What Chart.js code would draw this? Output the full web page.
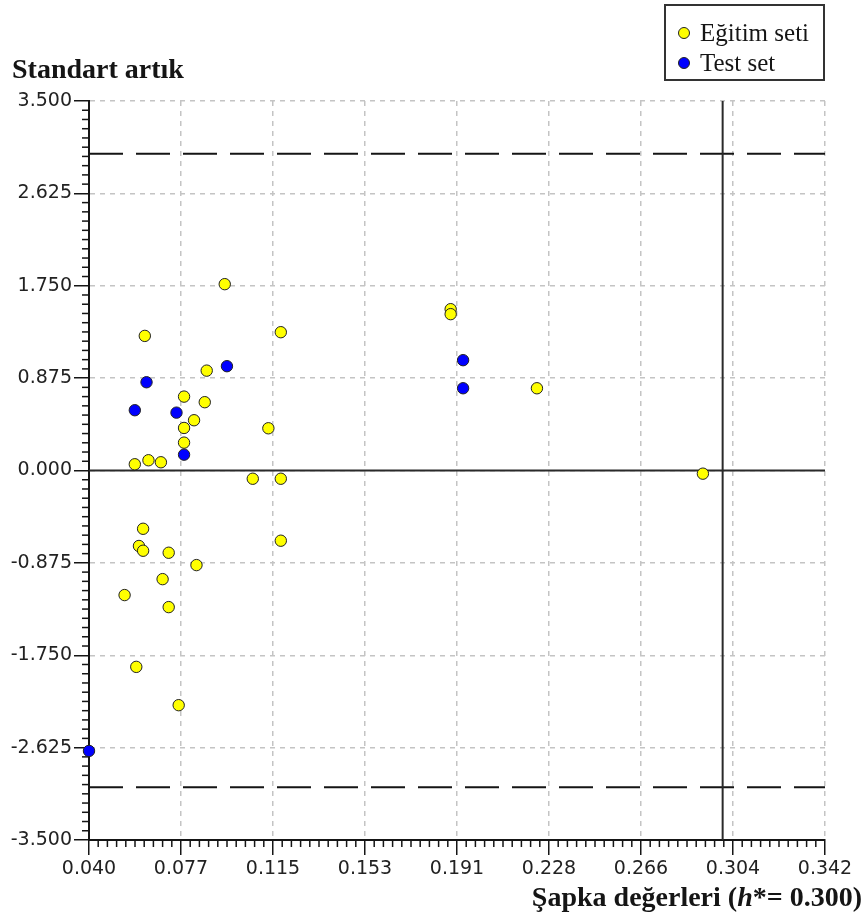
<!DOCTYPE html>
<html><head><meta charset="utf-8">
<script src="https://cdn.jsdelivr.net/npm/chart.js@4/dist/chart.umd.min.js"></script>
<style>html,body{margin:0;padding:0;background:#fff;overflow:hidden}canvas{display:block}</style>
</head><body>
<canvas id="c" width="867" height="922"></canvas>
<script>
// ---- data ----
const seriesNames = ['Eğitim seti', 'Test set'];
const trainX = [0.0629, 0.1187, 0.0883, 0.0790, 0.0875, 0.0831, 0.0790, 0.0790, 0.1136, 0.0588,
                0.0644, 0.0695, 0.1072, 0.1187, 0.0622, 0.0605, 0.0622, 0.0727, 0.0841, 0.0702,
                0.0546, 0.0727, 0.0594, 0.0768, 0.1187, 0.0957, 0.1884, 0.1884, 0.2238, 0.2919];
const trainY = [1.275, 1.310, 0.946, 0.700, 0.647, 0.476, 0.403, 0.264, 0.400, 0.059,
                0.097, 0.078, -0.078, -0.078, -0.552, -0.715, -0.760, -0.779, -0.896, -1.029,
                -1.180, -1.294, -1.860, -2.223, -0.665, 1.765, 1.528, 1.481, 0.779, -0.030];
const testX = [0.0636, 0.0966, 0.0588, 0.0759, 0.0790, 0.0400, 0.1935, 0.1935];
const testY = [0.836, 0.988, 0.571, 0.548, 0.150, -2.656, 1.045, 0.779];
const xTickValues = [0.040, 0.07775, 0.1155, 0.15325, 0.191, 0.22875, 0.2665, 0.30425, 0.342];
const xTickLabels = ['0.040','0.077','0.115','0.153','0.191','0.228','0.266','0.304','0.342'];
const yTickValues = [-3.5, -2.625, -1.75, -0.875, 0, 0.875, 1.75, 2.625, 3.5];
const yTickLabels = ['-3.500','-2.625','-1.750','-0.875','0.000','0.875','1.750','2.625','3.500'];
const warningLines = [-3, 3];
const zeroLine = 0;
const hStar = 0.300;
const yTitle = 'Standart artık';
const xTitleParts = ['Şapka değerleri (', 'h', '*= 0.300)'];
const minorDivisions = 10;

const toPoints = (xs, ys) => xs.map((x, i) => ({x: x, y: ys[i]}));
const tickFont = {family: 'DejaVu Sans', size: 19};
const ink = '#151515';

const refLines = {
  id: 'refLines',
  beforeDatasetsDraw(chart) {
    const {ctx, chartArea: a, scales: {x, y}} = chart;
    ctx.save();
    ctx.strokeStyle = ink;
    ctx.lineWidth = 2;
    ctx.setLineDash([34, 13]);
    warningLines.forEach(v => {
      const py = y.getPixelForValue(v);
      ctx.beginPath(); ctx.moveTo(a.left, py); ctx.lineTo(a.right, py); ctx.stroke();
    });
    ctx.setLineDash([]);
    ctx.strokeStyle = '#2a2a2a';
    const py0 = y.getPixelForValue(zeroLine);
    ctx.beginPath(); ctx.moveTo(a.left, py0); ctx.lineTo(a.right, py0); ctx.stroke();
    const px = x.getPixelForValue(hStar);
    ctx.beginPath(); ctx.moveTo(px, a.top); ctx.lineTo(px, a.bottom); ctx.stroke();
    // minor ticks
    ctx.strokeStyle = ink;
    ctx.lineWidth = 1.5;
    for (let i = 0; i < xTickValues.length - 1; i++) {
      for (let k = 1; k < minorDivisions; k++) {
        const v = xTickValues[i] + (xTickValues[i + 1] - xTickValues[i]) * k / minorDivisions;
        const p = x.getPixelForValue(v);
        ctx.beginPath(); ctx.moveTo(p, a.bottom); ctx.lineTo(p, a.bottom + 7); ctx.stroke();
      }
    }
    for (let i = 0; i < yTickValues.length - 1; i++) {
      for (let k = 1; k < minorDivisions; k++) {
        const v = yTickValues[i] + (yTickValues[i + 1] - yTickValues[i]) * k / minorDivisions;
        const p = y.getPixelForValue(v);
        ctx.beginPath(); ctx.moveTo(a.left - 7, p); ctx.lineTo(a.left, p); ctx.stroke();
      }
    }
    ctx.restore();
  }
};

const titlesAndLegend = {
  id: 'titlesAndLegend',
  afterDraw(chart) {
    const ctx = chart.ctx;
    ctx.save();
    ctx.fillStyle = ink;
    ctx.textBaseline = 'alphabetic';
    ctx.textAlign = 'left';
    ctx.font = 'bold 28px "Liberation Serif"';
    ctx.fillText(yTitle, 12, 78);
    // x title, right aligned
    const fonts = ['bold 28px "Liberation Serif"', 'italic bold 28px "Liberation Serif"', 'bold 28px "Liberation Serif"'];
    const widths = xTitleParts.map((t, i) => { ctx.font = fonts[i]; return ctx.measureText(t).width; });
    let xx = 862 - widths.reduce((s, w) => s + w, 0);
    xTitleParts.forEach((t, i) => { ctx.font = fonts[i]; ctx.fillText(t, xx, 906); xx += widths[i]; });
    // legend
    ctx.lineWidth = 2;
    ctx.strokeStyle = '#333';
    ctx.strokeRect(665, 5, 159, 75);
    ctx.font = '25px "Liberation Serif"';
    chart.data.datasets.forEach((ds, i) => {
      const cy = 33 + i * 30;
      ctx.beginPath();
      ctx.arc(684, cy, 5.5, 0, Math.PI * 2);
      ctx.fillStyle = ds.backgroundColor;
      ctx.fill();
      ctx.lineWidth = 1;
      ctx.strokeStyle = '#222';
      ctx.stroke();
      ctx.fillStyle = ink;
      ctx.fillText(ds.label, 700, cy + 8);
    });
    ctx.restore();
  }
};

new Chart(document.getElementById('c'), {
  type: 'scatter',
  data: {
    datasets: [
      {label: seriesNames[0], data: toPoints(trainX, trainY), backgroundColor: '#ffff00',
       borderColor: '#222', borderWidth: 1, pointRadius: 5.7, pointHoverRadius: 5.7, clip: false},
      {label: seriesNames[1], data: toPoints(testX, testY), backgroundColor: '#0000ff',
       borderColor: '#222', borderWidth: 1, pointRadius: 5.7, pointHoverRadius: 5.7, clip: false}
    ]
  },
  options: {
    responsive: false,
    animation: false,
    devicePixelRatio: 1,
    layout: {padding: {top: 101, right: 42, left: 0, bottom: 0}},
    plugins: {legend: {display: false}, tooltip: {enabled: false}, title: {display: false}},
    scales: {
      x: {
        type: 'linear', min: xTickValues[0], max: xTickValues[xTickValues.length - 1],
        afterBuildTicks: s => { s.ticks = xTickValues.map(v => ({value: v})); },
        afterFit: s => { s.height = 82; },
        ticks: {callback: (v, i) => xTickLabels[i], font: tickFont, color: '#222', padding: 3,
                maxRotation: 0, minRotation: 0, autoSkip: false},
        grid: {color: '#c4c4c4', lineWidth: 1.5, tickLength: 15, tickColor: ink, tickWidth: 1.5},
        border: {display: true, color: ink, width: 2, dash: [5, 5]}
      },
      y: {
        type: 'linear', min: yTickValues[0], max: yTickValues[yTickValues.length - 1],
        afterBuildTicks: s => { s.ticks = yTickValues.map(v => ({value: v})); },
        afterFit: s => { s.width = 89; },
        ticks: {callback: (v, i) => yTickLabels[i], font: tickFont, color: '#222', padding: 2, autoSkip: false},
        grid: {color: '#c4c4c4', lineWidth: 1.5, tickLength: 15, tickColor: ink, tickWidth: 1.5},
        border: {display: true, color: ink, width: 2, dash: [5, 5]}
      }
    }
  },
  plugins: [refLines, titlesAndLegend]
});
</script>
</body></html>
